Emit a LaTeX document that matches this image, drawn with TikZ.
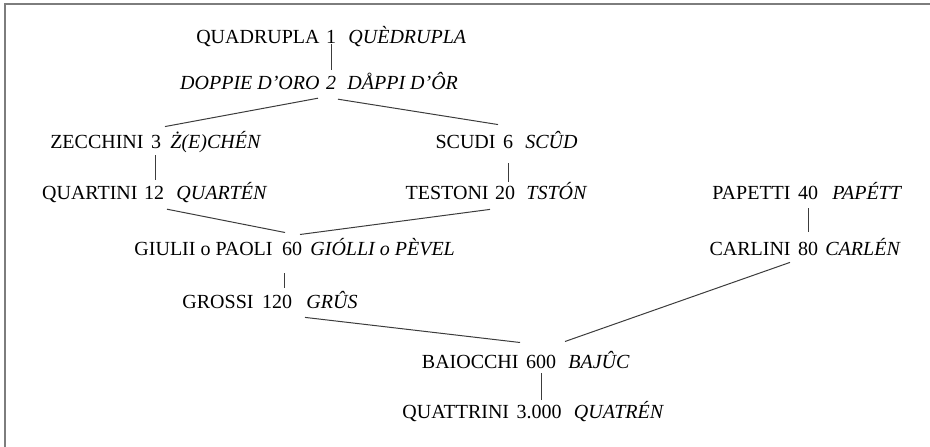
\documentclass[tikz,border=0pt]{standalone}
\usepackage{fontspec}
\setmainfont{Liberation Serif}
\usetikzlibrary{positioning,calc}
\definecolor{linkgray}{RGB}{60,60,60}
\definecolor{framegray}{RGB}{125,125,125}

\begin{document}
\begin{tikzpicture}[
 x=1pt, y=-1pt,
 num/.style={inner sep=0pt, anchor=base, font=\fontsize{20}{24}\selectfont},
 rom/.style={inner sep=0pt, font=\fontsize{20}{24}\selectfont},
 ita/.style={inner sep=0pt, font=\fontsize{20}{24}\selectfont\itshape},
 link/.style={draw=linkgray, line width=1pt},
 frame/.style={draw=framegray, line width=2pt}
]
\useasboundingbox (0,0) rectangle (930,447);

% Frame
\draw[frame] (5,447) -- (5,4) -- (930,4);

% Top
\node[num] (n1) at (331,43) {1};
\node[rom, base left=6pt of n1] (r1) {QUADRUPLA};
\node[ita, base right=12pt of n1] (i1) {QUÈDRUPLA};

\node[num, font=\fontsize{20}{24}\selectfont\itshape] (n2) at (331,89) {2};
\node[ita, base left=6pt of n2] (r2) {DOPPIE D'ORO};
\node[ita, base right=11pt of n2] (i2) {DÅPPI D'ÔR};

% Left branch
\node[num] (n3) at (156,148) {3};
\node[rom, base left=7pt of n3] (r3) {ZECCHINI};
\node[ita, base right=9pt of n3] (i3) {Ż(E)CHÉN};

\node[num] (n12) at (154,199) {12};
\node[rom, base left=6pt of n12] (r12) {QUARTINI};
\node[ita, base right=12pt of n12] (i12) {QUARTÉN};

% Right branch
\node[num] (n6) at (508,148) {6};
\node[rom, base left=7pt of n6] (r6) {SCUDI};
\node[ita, base right=12pt of n6] (i6) {SCÛD};

\node[num] (n20) at (505,199) {20};
\node[rom, base left=6pt of n20] (r20) {TESTONI};
\node[ita, base right=11pt of n20] (i20) {TSTÓN};

% Middle
\node[num] (n60) at (292,255) {60};
\node[rom, base left=9pt of n60] (r60) {GIULII o PAOLI};
\node[ita, base right=8pt of n60] (i60) {GIÓLLI o PÈVEL};

\node[num] (n120) at (277,308) {120};
\node[rom, base left=8pt of n120] (r120) {GROSSI};
\node[ita, base right=14pt of n120] (i120) {GRÛS};

% Far right
\node[num] (n40) at (808,199) {40};
\node[rom, base left=7pt of n40] (r40) {PAPETTI};
\node[ita, base right=14pt of n40] (i40) {PAPÉTT};

\node[num] (n80) at (808,255) {80};
\node[rom, base left=7pt of n80] (r80) {CARLINI};
\node[ita, base right=7pt of n80] (i80) {CARLÉN};

% Bottom
\node[num] (n600) at (541,368) {600};
\node[rom, base left=7pt of n600] (r600) {BAIOCCHI};
\node[ita, base right=12pt of n600] (i600) {BAJÛC};

\node[num] (n3000) at (539,418) {3.000};
\node[rom, base left=7pt of n3000] (r3000) {QUATTRINI};
\node[ita, base right=12pt of n3000] (i3000) {QUATRÉN};

% Links
\draw[link] ($(n1.south)+(0,1)$) -- ($(n2.north)+(0,-6)$);
\draw[link] ($(n2.south)+(-13,9)$) -- ($(n3.north)+(9,-8)$);
\draw[link] ($(n2.south)+(7,10)$) -- ($(n6.north)+(-10,-10)$);
\draw[link] ($(n3.south)+(-1,7)$) -- ($(n3.south)+(-1,32)$);
\draw[link] ($(n6.south)+(0,15)$) -- ($(n20.north)+(3,-4)$);
\draw[link] ($(n12.south)+(13,10)$) -- ($(n60.north)+(-7,-9)$);
\draw[link] ($(n20.south)+(-15,10)$) -- ($(n60.north)+(8,-7)$);
\draw[link] ($(n40.south)+(0,9)$) -- ($(n80.north)+(0,-10)$);
\draw[link] ($(n60.south)+(-8,18)$) -- ($(n120.north)+(7,-7)$);
\draw[link] ($(n120.south)+(28,9)$) -- ($(n600.north)+(-21,-12)$);
\draw[link] ($(n80.south)+(-18,7)$) -- ($(n600.north)+(24,-13)$);
\draw[link] ($(n600.south)+(0,5)$) -- ($(n3000.north)+(2,-5)$);

\end{tikzpicture}
\end{document}
